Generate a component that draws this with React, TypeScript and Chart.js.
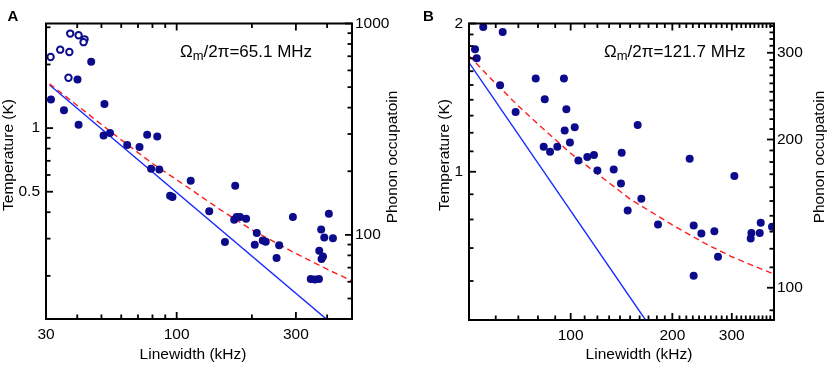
import React, { useEffect, useRef } from 'react';
import { Chart, registerables } from 'chart.js';

Chart.register(...registerables);

const FONT = 'Liberation Sans, Arial, Helvetica, sans-serif';
const NAVY = '#0b0b8c';
const BLUE = '#1428ff';
const RED = '#ff1e1e';

// ---------- Panel A (Ωm/2π = 65.1 MHz) ----------
const A_OPEN_X = [31.3, 34.2, 37.2, 37.5, 36.9, 40.5, 42.8, 42.4];
const A_OPEN_T = [2.17, 2.35, 2.29, 2.8, 1.73, 2.75, 2.63, 2.55];

const A_FILL_X = [31.4, 35.4, 40.5, 40.1, 45.5, 51.4, 51.0, 54.1, 63.4, 71.0, 76.2, 83.6, 79.0, 85.2, 113.8, 94.1, 96.2, 171.5, 135.0, 169.9, 173.6, 179.3, 189.6, 156.0, 205.3, 209.2, 221.0, 227.2, 257.1, 251.0, 291.8, 344, 357, 371, 372, 380, 385, 378.6, 389.6, 406.4, 422];
const A_FILL_T = [1.365, 1.216, 1.036, 1.7, 2.06, 1.3, 0.923, 0.947, 0.831, 0.813, 0.93, 0.913, 0.642, 0.637, 0.564, 0.479, 0.472, 0.534, 0.404, 0.369, 0.38, 0.38, 0.373, 0.289, 0.281, 0.319, 0.294, 0.29, 0.279, 0.243, 0.38, 0.193, 0.192, 0.193, 0.263, 0.24, 0.247, 0.331, 0.304, 0.393, 0.301];

const A_BLUE_X = [31, 400];
const A_BLUE_T = [1.6, 0.124];

const A_RED_X = [31, 40, 50, 60, 80, 100, 150, 200, 300, 400, 500];
const A_RED_T = [1.62, 1.28, 1.04, 0.88, 0.68, 0.57, 0.41, 0.33, 0.255, 0.215, 0.19];

const A_X_TICKS = [30, 40, 50, 60, 70, 80, 90, 100, 200, 300, 400];
const A_X_LABELS = [30, 100, 300];
const A_Y_TICKS = [0.2, 0.3, 0.4, 0.5, 0.6, 0.7, 0.8, 0.9, 1, 2, 3];
const A_Y_LABELS = [0.5, 1];
const A_Y2_TICKS = [50, 60, 70, 80, 90, 100, 200, 300, 400, 500, 600, 700, 800, 900, 1000];
const A_Y2_LABELS = [100, 1000];

// ---------- Panel B (Ωm/2π = 121.7 MHz) ----------
const B_FILL_X = [55.1, 62.9, 52.1, 52.7, 61.8, 68.7, 78.8, 83.8, 95.5, 97.1, 102.8, 96.0, 99.5, 83.2, 86.9, 91.3, 105.4, 112.0, 117.2, 120.0, 134.1, 141.6, 140.9, 157.9, 225.1, 305.3, 161.9, 147.5, 181.4, 231.3, 243.8, 266.4, 273.1, 231.3, 341.2, 342.9, 362.9, 365.4, 394.7];
const B_FILL_T = [1.968, 1.923, 1.773, 1.7, 1.498, 1.322, 1.546, 1.403, 1.546, 1.339, 1.232, 1.213, 1.147, 1.124, 1.098, 1.124, 1.054, 1.071, 1.081, 1.006, 1.011, 1.093, 0.947, 1.244, 1.063, 0.98, 0.881, 0.834, 0.781, 0.778, 0.749, 0.757, 0.672, 0.615, 0.732, 0.751, 0.751, 0.788, 0.773];

const B_BLUE_X = [50, 168];
const B_BLUE_T = [1.666, 0.496];

const B_RED_X = [50, 60, 70, 80, 100, 120, 150, 200, 250, 300, 350, 400];
const B_RED_T = [1.72, 1.51, 1.36, 1.25, 1.09, 0.99, 0.88, 0.78, 0.715, 0.672, 0.643, 0.62];

const B_X_TICKS = [50, 60, 70, 80, 90, 100, 110, 120, 130, 140, 150, 160, 170, 180, 190, 200, 210, 220, 230, 240, 250, 260, 270, 280, 290, 300, 310, 320, 330, 340, 350, 360, 370, 380, 390, 400];
const B_X_LABELS = [100, 200, 300];
const B_Y_TICKS = [0.6, 0.7, 0.8, 0.9, 1, 1.1, 1.2, 1.3, 1.4, 1.5, 1.6, 1.7, 1.8, 1.9, 2];
const B_Y_LABELS = [1, 2];
const B_Y2_TICKS = [90, 100, 110, 120, 130, 140, 150, 160, 170, 180, 190, 200, 210, 220, 230, 240, 250, 260, 270, 280, 290, 300, 310, 320, 330, 340];
const B_Y2_LABELS = [100, 200, 300];

function pts(xs: number[], ys: number[]) {
  return xs.map((x, i) => ({ x, y: ys[i] }));
}

type PanelCfg = {
  letter: string; letterX: number;
  note: string; noteX: number;
  xMin: number; xMax: number; yMin: number; yMax: number; y2Min: number; y2Max: number;
  xTicks: number[]; xLabels: number[]; yTicks: number[]; yLabels: number[]; y2Ticks: number[]; y2Labels: number[];
  leftW: number; rightW: number; bottomH: number;
  yTitleX: number; y2TitleX: number; xTitleX: number;
  datasets: any[];
};

function makeDecor(cfg: PanelCfg) {
  return {
    id: 'decor' + cfg.letter,
    afterDraw(chart: any) {
      const ctx: CanvasRenderingContext2D = chart.ctx;
      const a = chart.chartArea;
      const sx = chart.scales['x'];
      const sy = chart.scales['y'];
      const sy2 = chart.scales['y2'];
      ctx.save();
      ctx.fillStyle = '#000000';
      const W = 1.8;
      const big = 7;
      const small = 4.5;
      cfg.xTicks.forEach((v) => {
        const p = sx.getPixelForValue(v);
        const L = cfg.xLabels.indexOf(v) >= 0 ? big : small;
        ctx.fillRect(p - W / 2, a.bottom - L, W, L);
        ctx.fillRect(p - W / 2, a.top, W, L);
      });
      cfg.yTicks.forEach((v) => {
        const p = sy.getPixelForValue(v);
        const L = cfg.yLabels.indexOf(v) >= 0 ? big : small;
        ctx.fillRect(a.left, p - W / 2, L, W);
      });
      cfg.y2Ticks.forEach((v) => {
        const p = sy2.getPixelForValue(v);
        const L = cfg.y2Labels.indexOf(v) >= 0 ? big : small;
        ctx.fillRect(a.right - L, p - W / 2, L, W);
      });
      ctx.strokeStyle = '#000000';
      ctx.setLineDash([]);
      ctx.lineWidth = 2;
      ctx.strokeRect(a.left, a.top, a.right - a.left, a.bottom - a.top);

      ctx.font = 'bold 15px ' + FONT;
      ctx.textAlign = 'left';
      ctx.textBaseline = 'alphabetic';
      ctx.fillText(cfg.letter, cfg.letterX, 21);
      let x = cfg.noteX;
      const base = 56.5;
      ctx.font = '17px ' + FONT;
      ctx.fillText('Ω', x, base);
      x += ctx.measureText('Ω').width;
      ctx.font = '13px ' + FONT;
      ctx.fillText('m', x, base + 3.5);
      x += ctx.measureText('m').width;
      ctx.font = '17px ' + FONT;
      ctx.fillText(cfg.note, x, base);
      ctx.font = '15.5px ' + FONT;
      ctx.textAlign = 'center';
      ctx.textBaseline = 'middle';
      ctx.fillText('Linewidth (kHz)', cfg.xTitleX, 355);
      ctx.save();
      ctx.translate(cfg.yTitleX, 155);
      ctx.rotate(-Math.PI / 2);
      ctx.fillText('Temperature (K)', 0, 0);
      ctx.restore();
      ctx.save();
      ctx.translate(cfg.y2TitleX, 157);
      ctx.rotate(-Math.PI / 2);
      ctx.fillText('Phonon occupatoin', 0, 0);
      ctx.restore();
      ctx.restore();
    },
  };
}

function logAxis(position: string, min: number, max: number, ticks: number[], labels: number[], size: number, pad: number) {
  return {
    type: 'logarithmic',
    position,
    display: true,
    min,
    max,
    grid: { display: false, drawTicks: false },
    border: { display: false },
    ticks: {
      autoSkip: false,
      maxRotation: 0,
      minRotation: 0,
      padding: pad,
      color: '#000',
      font: { family: FONT, size: 15.5 },
      callback: (v: number) => (labels.indexOf(v) >= 0 ? String(v) : ''),
    },
    afterBuildTicks: (s: any) => {
      s.ticks = ticks.map((v) => ({ value: v }));
    },
    afterFit: (s: any) => {
      if (position === 'bottom') s.height = size; else s.width = size;
      s.paddingTop = 0; s.paddingBottom = 0; s.paddingLeft = 0; s.paddingRight = 0;
    },
  };
}

function Panel({ cfg, left }: { cfg: PanelCfg; left: number }) {
  const ref = useRef<HTMLCanvasElement>(null);
  useEffect(() => {
    if (!ref.current) return;
    const chart = new Chart(ref.current, {
      type: 'scatter',
      data: { datasets: cfg.datasets },
      options: {
        responsive: false,
        animation: false,
        events: [],
        layout: { padding: { top: 23.5, left: 0, right: 0, bottom: 0 } },
        plugins: { legend: { display: false }, tooltip: { enabled: false } },
        scales: {
          x: logAxis('bottom', cfg.xMin, cfg.xMax, cfg.xTicks, cfg.xLabels, cfg.bottomH, 6),
          y: logAxis('left', cfg.yMin, cfg.yMax, cfg.yTicks, cfg.yLabels, cfg.leftW, 6),
          y2: logAxis('right', cfg.y2Min, cfg.y2Max, cfg.y2Ticks, cfg.y2Labels, cfg.rightW, 3),
        },
      } as any,
      plugins: [makeDecor(cfg)],
    });
    return () => chart.destroy();
  }, []);
  return (
    <div style={{ position: 'absolute', left, top: 0, width: 415, height: 366 }}>
      <canvas ref={ref} width={415} height={366} style={{ display: 'block' }} />
    </div>
  );
}

function pointSet(xs: number[], ys: number[]) {
  return { data: pts(xs, ys), pointRadius: 4, backgroundColor: NAVY, borderWidth: 0, showLine: false };
}
function openSet(xs: number[], ys: number[]) {
  return { data: pts(xs, ys), pointRadius: 3.2, backgroundColor: '#fff', borderColor: NAVY, borderWidth: 2, showLine: false };
}
function lineSet(xs: number[], ys: number[], color: string, dash: number[]) {
  return { data: pts(xs, ys), showLine: true, pointRadius: 0, borderColor: color, borderWidth: 1.4, borderDash: dash, fill: false, tension: 0 };
}

const cfgA: PanelCfg = {
  letter: 'A', letterX: 7.5,
  note: '/2π=65.1 MHz', noteX: 180,
  xMin: 30, xMax: 503, yMin: 0.125, yMax: 3.125, y2Min: 40, y2Max: 1000,
  xTicks: A_X_TICKS, xLabels: A_X_LABELS, yTicks: A_Y_TICKS, yLabels: A_Y_LABELS, y2Ticks: A_Y2_TICKS, y2Labels: A_Y2_LABELS,
  leftW: 46, rightW: 63, bottomH: 47,
  yTitleX: 9, y2TitleX: 393, xTitleX: 193,
  datasets: [
    pointSet(A_FILL_X, A_FILL_T),
    openSet(A_OPEN_X, A_OPEN_T),
    lineSet(A_RED_X, A_RED_T, RED, [6, 4]),
    lineSet(A_BLUE_X, A_BLUE_T, BLUE, []),
  ],
};

const cfgB: PanelCfg = {
  letter: 'B', letterX: 8,
  note: '/2π=121.7 MHz', noteX: 189,
  xMin: 50, xMax: 400, yMin: 0.5, yMax: 2, y2Min: 86, y2Max: 344,
  xTicks: B_X_TICKS, xLabels: B_X_LABELS, yTicks: B_Y_TICKS, yLabels: B_Y_LABELS, y2Ticks: B_Y2_TICKS, y2Labels: B_Y2_LABELS,
  leftW: 54, rightW: 56, bottomH: 46,
  yTitleX: 30, y2TitleX: 405, xTitleX: 224,
  datasets: [
    pointSet(B_FILL_X, B_FILL_T),
    lineSet(B_RED_X, B_RED_T, RED, [6, 4]),
    lineSet(B_BLUE_X, B_BLUE_T, BLUE, []),
  ],
};

export default function App() {
  return (
    <div style={{ position: 'absolute', left: 0, top: 0, width: 830, height: 366, background: '#fff' }}>
      <Panel cfg={cfgA} left={0} />
      <Panel cfg={cfgB} left={415} />
    </div>
  );
}
